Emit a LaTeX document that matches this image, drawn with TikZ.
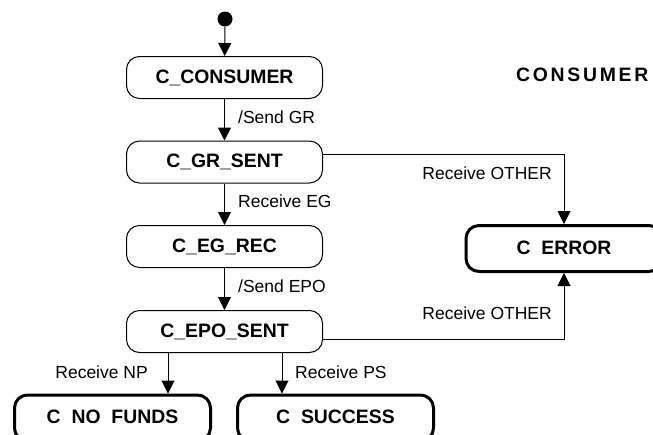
\documentclass[tikz,border=0pt]{standalone}
\usepackage{fontspec}
\setmainfont{Liberation Sans}
\usetikzlibrary{arrows.meta,calc}
\tikzset{
  state/.style={draw, line width=1pt, rounded corners=13pt, minimum width=196pt,
    minimum height=42pt, inner sep=0pt,
    font=\fontsize{19.4}{22}\selectfont\bfseries},
  final/.style={state, line width=3pt, minimum height=46pt},
  trans/.style={line width=1pt, -{Triangle[width=13pt,length=13pt]}},
  lbl/.style={inner sep=0pt, font=\fontsize{17.5}{20}\selectfont},
}
\newcommand{\gap}{\phantom{\_}}
\begin{document}
\begin{tikzpicture}[x=1pt,y=1pt]
\useasboundingbox (0,0) rectangle (653,-434);
\clip (0,0) rectangle (653,-434);

% initial pseudo-state
\node[circle, fill=black, minimum size=15pt, inner sep=0pt] (init) at (225,-19) {};

% states of the consumer
\node[state] (cons) at (224.5,-77.5) {C\_CONSUMER};
\node[state] (gr)   at (224.5,-162)  {C\_GR\_SENT};
\node[state] (eg)   at (224.5,-246.5){C\_EG\_REC};
\node[state] (epo)  at (224.5,-331.5){C\_EPO\_SENT};

% final states
\node[final] (err)     at (564,-248.5) {C\gap ERROR};
\node[final] (nofunds) at (112.5,-418) {C\gap NO\gap FUNDS};
\node[final] (success) at (335.5,-418) {C\gap SUCCESS};

% diagram title
\node[inner sep=0pt, anchor=east,
  font=\fontsize{19.4}{22}\selectfont\bfseries\addfontfeature{LetterSpace=14}]
  (title) at (648.5,-75) {CONSUMER};

% main sequence
\draw[trans] (init) -- (cons);
\draw[trans] (cons) -- (gr);
\draw[trans] (gr) -- (eg);
\draw[trans] (eg) -- (epo);

\node[lbl, anchor=west] (l1) at (238,-117) {/Send GR};
\node[lbl, anchor=west] (l2) at (238,-201) {Receive EG};
\node[lbl, anchor=west] (l3) at (238,-286) {/Send EPO};

% branches out of C_EPO_SENT
\coordinate (xnp) at (168,0);
\coordinate (xps) at (282,0);
\draw[trans] (epo.south -| xnp) -- (nofunds.north -| xnp);
\draw[trans] (epo.south -| xps) -- (success.north -| xps);
\node[lbl, anchor=east] (l4) at (148,-372) {Receive NP};
\node[lbl, anchor=west] (l5) at (295,-372) {Receive PS};

% error transitions
\draw[trans] ([yshift=8pt]gr.east) -| (err.north);
\draw[trans] ([yshift=-7.5pt]epo.east) -| (err.south);
\node[lbl, anchor=east] (l6) at (552,-173) {Receive OTHER};
\node[lbl, anchor=east] (l7) at (552,-313) {Receive OTHER};
\end{tikzpicture}
\end{document}
